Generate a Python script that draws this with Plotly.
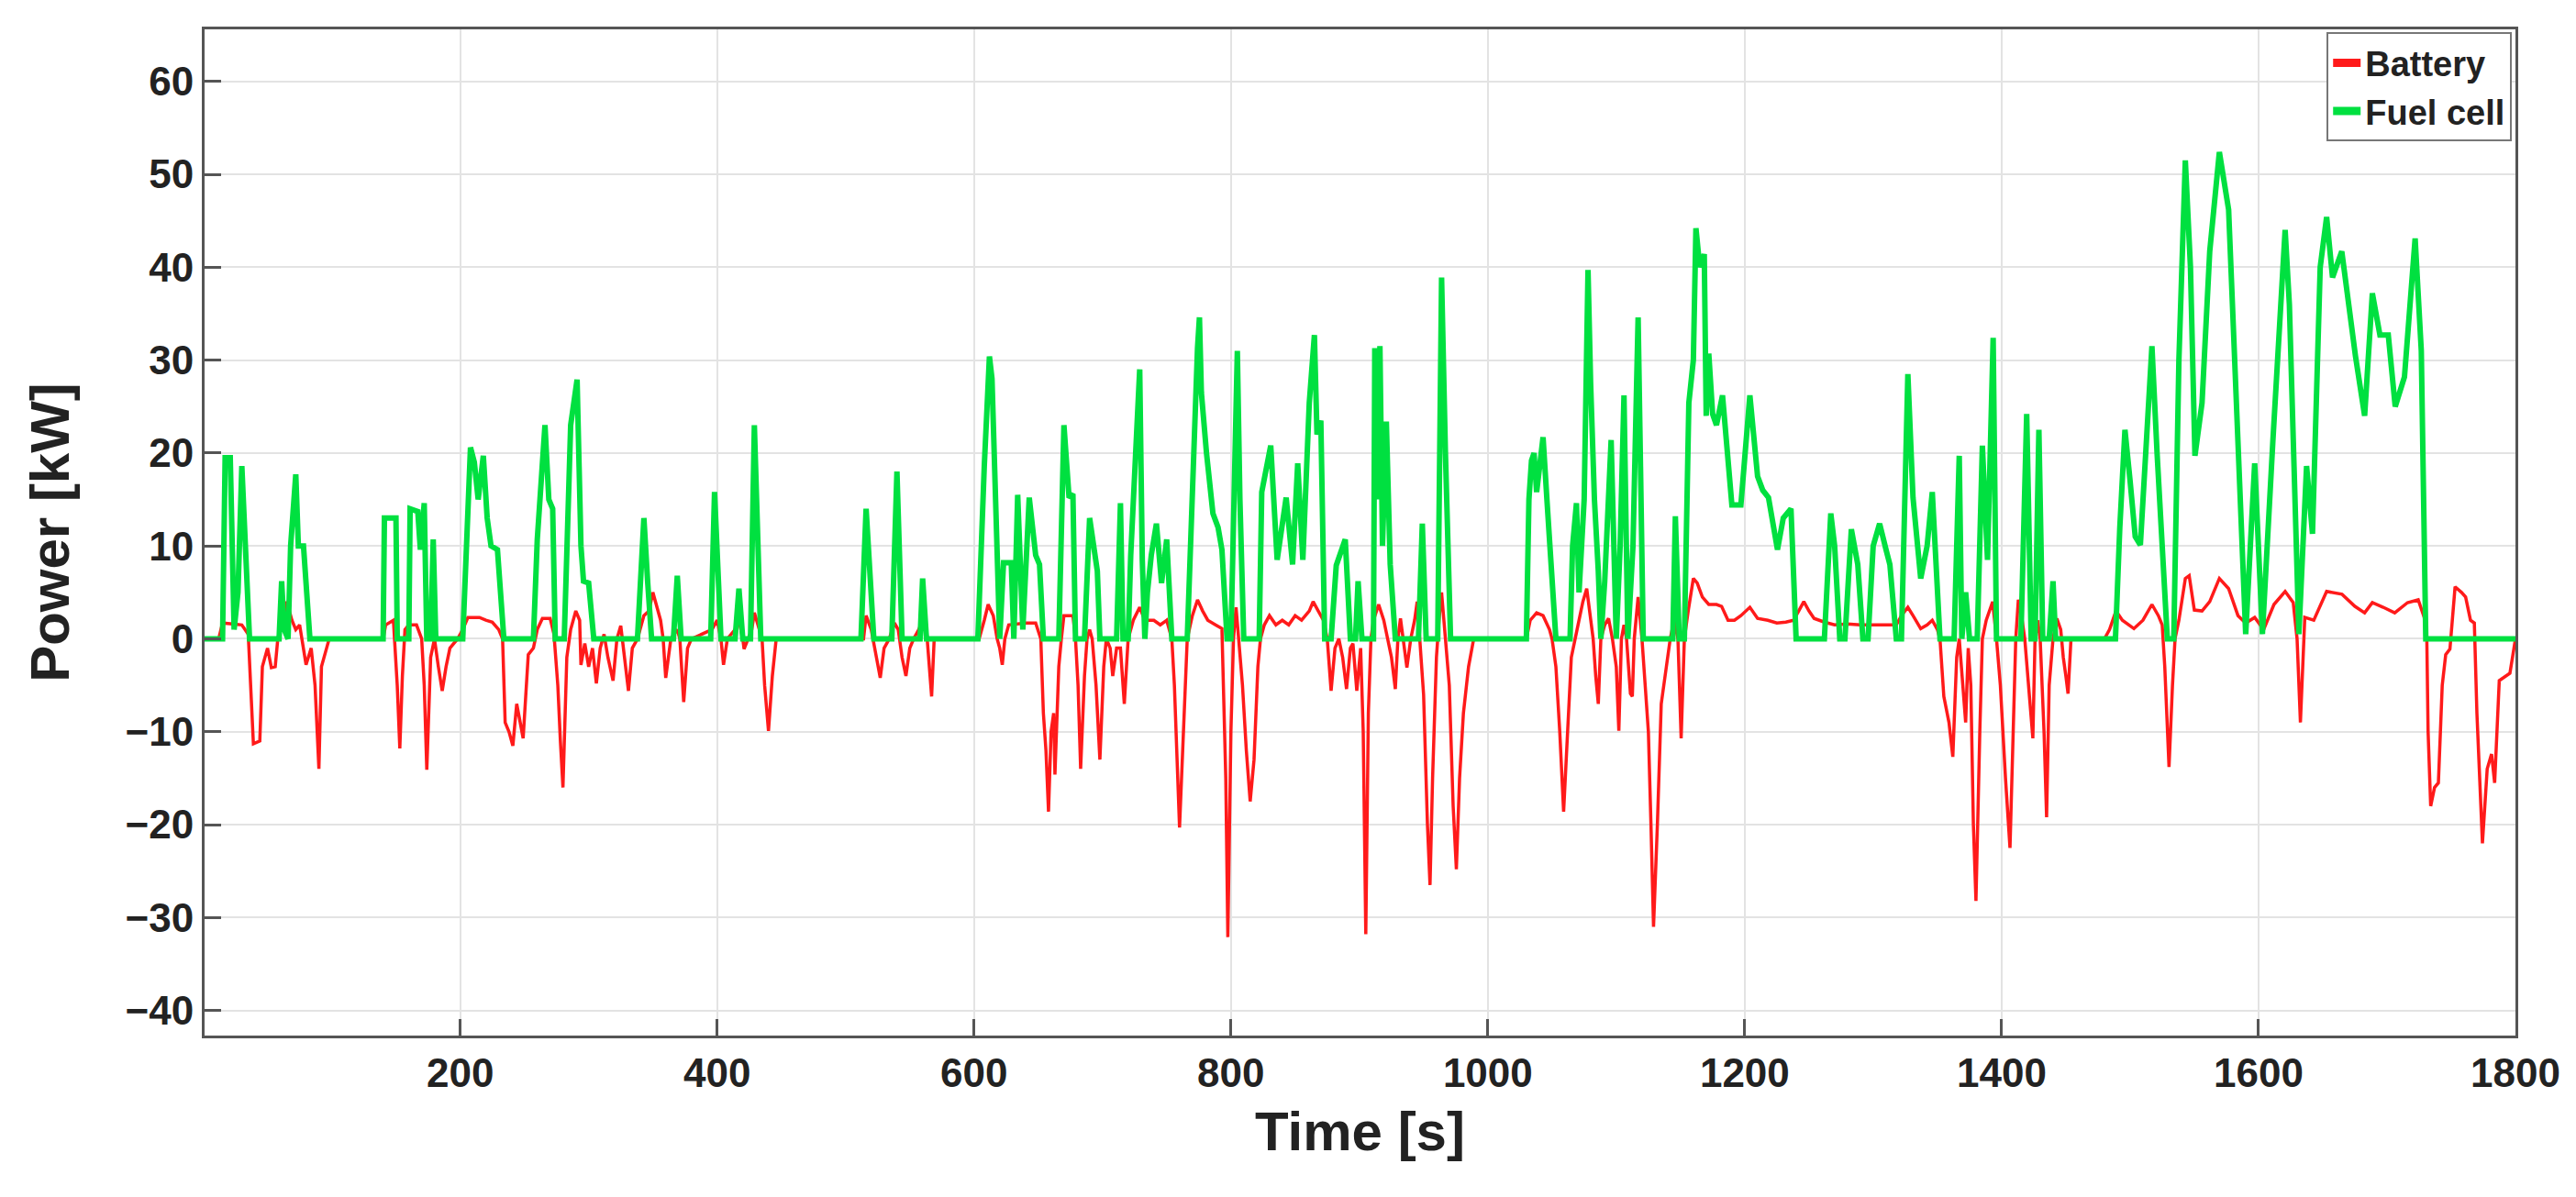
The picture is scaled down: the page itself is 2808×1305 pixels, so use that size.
import plotly.graph_objects as go

# Fuel cell power [kW], (time [s], power) breakpoints
fc_points = [
    (1, 0), (15, 0), (17, 19.5), (21, 19.5), (24, 1), (27, 5), (30, 18.6), (33, 9.6), (36, 0),
    (59, 0), (61, 6.2), (63, 1), (66, 0), (68, 10), (72, 17.7), (74, 10), (78, 10), (83, 0),
    (140, 0), (141, 13), (150, 13), (151, 0), (160, 0), (161, 14), (167, 13.7), (169, 9.6),
    (172, 14.6), (174, 0), (177, 0), (179, 10.7), (181, 0), (202, 0), (205, 10), (208, 20.6),
    (211, 19), (214, 15), (218, 19.7), (221, 13), (224, 10), (229, 9.6), (234, 0), (257, 0),
    (260, 10.7), (266, 23), (269, 15), (272, 14), (274, 0), (281, 0), (286, 23), (291, 27.9),
    (294, 10), (296, 6.2), (300, 6), (304, 0), (338, 0), (343, 13), (346, 6), (349, 0),
    (366, 0), (369, 6.8), (372, 0), (395, 0), (398, 15.8), (403, 0), (414, 0), (417, 5.4),
    (420, 0), (426, 0), (429, 23), (434, 0), (512, 0), (516, 14), (522, 0), (536, 0), (540, 18),
    (544, 0), (558, 0), (560, 6.5), (563, 0), (603, 0), (608, 18.6), (612, 30.4), (614, 28),
    (616, 18.6), (620, 0), (623, 8.2), (629, 8.2), (631, 0), (634, 15.5), (638, 1), (643, 15.2),
    (648, 9), (651, 8), (654, 0), (666, 0), (670, 23), (674, 15.2), (677, 15.6), (679, 0),
    (686, 0), (690, 13), (696, 7.3), (698, 0), (711, 0), (714, 14.6), (716, 0), (720, 0),
    (722, 9), (729, 29), (731, 8.5), (733, 0), (735, 5), (738, 9), (742, 12.4), (746, 6),
    (750, 10.7), (754, 0), (766, 0), (770, 18), (774, 31.3), (775.5, 34.6), (777, 26.5),
    (781, 20), (786, 13.5), (790, 12), (793, 9.6), (797, 0), (800, 0), (805, 31), (807, 15),
    (810, 0), (822, 0), (824, 15.8), (831, 20.8), (836, 8.5), (843, 15.2), (848, 8),
    (852, 18.9), (856, 8.5), (861, 25.4), (865, 32.7), (867, 22), (870, 23.5), (871, 15),
    (873, 0), (878, 0), (882, 7.9), (889, 10.7), (893, 0), (897, 0), (899, 6.2), (902, 0),
    (911, 0), (912, 31.3), (914, 15), (916, 31.5), (918, 10), (921, 23.4), (924, 8), (928, 0),
    (946, 0), (949, 12.4), (952, 0), (961, 0), (964, 38.9), (967, 20), (971, 0), (1030, 0),
    (1032, 15), (1034, 19.2), (1036, 20), (1038, 15.8), (1043, 21.7), (1046, 15), (1049, 7.9),
    (1053, 0), (1064, 0), (1066, 10), (1069, 14.6), (1071, 5), (1075, 15), (1078, 39.7),
    (1080, 27.6), (1083, 15), (1086, 7.3), (1088, 0), (1091, 6.2), (1096, 21.4), (1100, 0),
    (1103, 10), (1106, 26.2), (1109, 0), (1113, 10), (1117, 34.6), (1121, 0), (1144, 0),
    (1146, 13.2), (1149, 0), (1153, 0), (1156.5, 25.4), (1160, 30), (1162, 44.2), (1165, 40),
    (1168.5, 41.4), (1170, 24), (1172, 30.7), (1175, 24.2), (1178, 23), (1182.7, 26.2),
    (1186, 20), (1190, 14.4), (1197, 14.4), (1204, 26.2), (1210, 17.5), (1214, 16),
    (1218.5, 15.2), (1222, 12), (1225.5, 9.6), (1230, 13), (1236, 14), (1240, 0), (1262, 0),
    (1267, 13.5), (1270, 10), (1274, 0), (1278, 0), (1283, 11.8), (1288, 8), (1292, 0),
    (1296, 0), (1300, 10), (1305, 12.4), (1310, 9.6), (1313, 8), (1318, 0), (1322, 0),
    (1327, 28.5), (1331, 15.2), (1337, 6.5), (1342, 10), (1346, 15.8), (1349, 8), (1352, 0),
    (1363, 0), (1367, 19.7), (1369, 0), (1372, 5), (1375, 0), (1381, 0), (1385, 20.8),
    (1389, 8.5), (1393.4, 32.4), (1396, 0), (1415, 0), (1419.5, 24.2), (1423, 0), (1426, 0),
    (1429, 22.5), (1432, 0), (1437, 0), (1440, 6.2), (1442, 0), (1488.6, 0), (1492, 12),
    (1496, 22.5), (1500, 17), (1504, 11), (1508, 10.1), (1512, 20), (1517, 31.5), (1521, 20),
    (1525, 10), (1529, 0), (1534, 0), (1538, 30), (1543, 51.5), (1547, 40), (1550.5, 19.7),
    (1553, 22), (1556, 25.4), (1562, 41.7), (1569.5, 52.4), (1576.7, 46.2), (1584, 22),
    (1590, 0.5), (1597, 18.9), (1603, 0.5), (1611.2, 21.4), (1620.7, 44), (1624, 36),
    (1631.4, 0.5), (1637.4, 18.6), (1642, 11.3), (1648, 40), (1653, 45.4), (1657.6, 38.9),
    (1664.8, 41.7), (1675.5, 30.4), (1682.6, 24), (1688.6, 37.2), (1694.5, 32.7),
    (1701, 32.7), (1706.4, 25), (1713.6, 28.2), (1721.9, 43.1), (1726.7, 31), (1730.2, 0),
    (1800, 0),
]

# Battery power [kW]
bat_points = [
    (1, 0), (12, 0), (15, 1.7), (30, 1.5), (35, 0.5), (37, -5), (39, -11.3), (44, -11),
    (46, -3), (50, -1), (53, -3.1), (56, -3), (58, 0), (62, 2), (65, 4), (69, 2), (72, 1),
    (75, 1.5), (78, -1), (80, -2.8), (84, -1), (87, -5), (90, -14), (92, -3), (96, -1), (98, 0),
    (140, 0), (142, 1.5), (148, 2), (151, -5), (153, -11.8), (155, -4), (157, 1), (160, 1.5),
    (166, 1.5), (170, 0), (172, -5), (174, -14.1), (177, -2), (180, 0), (183, -3), (186, -5.6),
    (189, -3), (192, -1), (198, 0), (202, 1), (206, 2.3), (215, 2.3), (220, 2), (225, 1.8),
    (230, 1), (233, 0), (235, -9), (238, -10), (241, -11.5), (244, -7), (249, -10.7),
    (253, -1.7), (257, -1), (260, 1), (264, 2.2), (270, 2.2), (273, 0.5), (276, -5), (278, -11),
    (280, -16), (283, -2), (286, 1), (290, 3), (293, 2), (294, -2.8), (297, -0.5), (300, -3),
    (303, -1), (306, -4.8), (309, -1), (312, 0.5), (315, -2), (319, -4.5), (322, 0), (325, 1.4),
    (328, -2), (331, -5.6), (334, -1), (338, 0), (343, 2.5), (347, 3), (350, 5), (353, 3.5),
    (356, 2), (358, 0), (360, -4.2), (364, 0), (369, 1), (371, 0), (374, -6.8), (377, -1),
    (380, 0), (396, 1), (400, 2), (403, 0), (405, -2.8), (408, 0), (414, 1), (417, 2), (420, 0),
    (421, -1.1), (424, 0), (427, 1), (429, 2.8), (433, 1), (435, 0), (437, -5), (440, -9.9),
    (443, -4), (446, 0), (514, 0), (516, 2.5), (520, 1), (524, -2), (527, -4.2), (530, -1),
    (534, 0), (538, 1.7), (541, 1), (544, -2), (547, -4), (550, -1), (553, 0), (557, 1),
    (560, 2), (563, 1), (565, -3), (567, -6.2), (569, 0), (604, 0), (608, 2), (611, 3.7),
    (615, 2.5), (618, 0), (620, -1), (622, -2.8), (624, 0), (627, 1.5), (640, 1.7), (648, 1.7),
    (652, 0), (654, -8), (656, -12), (658, -18.6), (660, -10), (662, -8), (663, -14.6),
    (666, -3), (668, 0), (670, 2.5), (677, 2.5), (679, 0), (681, -5), (683, -14), (686, -4),
    (688, 0), (690, 1), (692, 0), (695, -5), (698, -13), (701, -3), (703, 0), (706, -1),
    (708, -4), (711, -1), (714, -1), (717, -7), (720, 0), (724, 2), (729, 3.4), (733, 2),
    (740, 2), (745, 1.5), (750, 2), (754, 0), (756, -5), (760, -20.3), (763, -10), (766, 0),
    (770, 2.5), (774, 4.2), (778, 3), (782, 2), (788, 1.5), (793, 1.1), (796, -15),
    (797.6, -32.1), (800, -10), (802, 0), (804, 3.4), (806, 0), (809, -5), (812, -12),
    (815, -17.5), (818, -13), (821, -3), (823, 0), (826, 1.5), (830, 2.5), (835, 1.5), (840, 2),
    (845, 1.5), (850, 2.5), (855, 2), (861, 3), (864, 4), (868, 3), (872, 2), (875, 0),
    (878, -5.6), (881, -1), (884, 0), (887, -2), (890, -5.4), (893, -1), (895, -0.5),
    (898, -5.6), (901, -1), (903, -10), (905, -31.8), (907, -8), (909, 0), (911, 2),
    (915, 3.7), (919, 2), (922, 0), (925, -2), (928, -5.4), (930, 0), (932, 2.2), (934, 0),
    (937, -3.1), (940, 0), (943, 2), (945, 4), (947, 0), (950, -6), (953, -20), (955, -26.5),
    (957, -15), (960, -2), (962, 2), (964, 5), (967, 0), (970, -5), (973, -18), (975.5, -24.8),
    (978, -15), (981, -8), (985, -3), (989, 0), (1030, 0), (1033, 2), (1038, 2.8), (1043, 2.5),
    (1048, 1), (1050, 0), (1053, -3), (1056, -10), (1059, -18.6), (1062, -10), (1065, -2),
    (1068, 0), (1071, 2), (1074, 4), (1077, 5.4), (1080, 2), (1082, 0), (1084, -4), (1086, -7),
    (1088, 0), (1091, 1.5), (1094, 2.2), (1097, 0), (1100, -3), (1102, -9.9), (1104, 0),
    (1106, 1.5), (1108, 0), (1111, -5.9), (1112.5, -6.2), (1114, 0), (1117, 4.5), (1120, 0),
    (1122, -4), (1125, -10), (1127, -20), (1129, -31), (1132, -20), (1135, -7), (1139, -3),
    (1142, 0), (1145, 2), (1148, 0), (1150.5, -10.7), (1153, 0), (1156, 3), (1160, 6.5),
    (1163, 6), (1167, 4.5), (1172, 3.7), (1178, 3.7), (1182, 3.5), (1187, 2), (1192, 2),
    (1197, 2.5), (1204, 3.4), (1210, 2.2), (1218, 2), (1225, 1.7), (1232, 1.8), (1238, 2),
    (1242, 3), (1246, 4), (1250, 3), (1254, 2.2), (1262, 1.8), (1270, 1.5), (1280, 1.6),
    (1290, 1.5), (1300, 1.5), (1310, 1.5), (1318, 1.5), (1322, 2.5), (1327, 3.4), (1331, 2.5),
    (1337, 1.1), (1342, 1.5), (1346, 2), (1350, 1), (1352, 0), (1355, -6.2), (1359, -9),
    (1362, -12.7), (1365, -2), (1367, 0), (1370, -5), (1372, -9), (1374, -1), (1376, -5),
    (1378, -20), (1380, -28.2), (1383, -10), (1385, 0), (1388, 2), (1393, 4), (1396, 0),
    (1399, -5), (1403, -15), (1406.5, -22.5), (1409, -10), (1411, 0), (1413, 4.2), (1416, 2),
    (1418, 0), (1421, -5), (1424.3, -10.7), (1426, 0), (1428, 2), (1430, 0), (1433, -10),
    (1435, -19.2), (1437, -5), (1440, 0), (1443, 2.2), (1446, 1), (1448, -2), (1450, -4),
    (1451.7, -5.9), (1454, 0), (1480, 0), (1484, 1), (1489, 3), (1494, 2), (1503, 1.1),
    (1510, 2), (1517, 3.7), (1522, 2.5), (1525, 1.5), (1527, -3), (1530.3, -13.8), (1533, -5),
    (1535, 0), (1538, 2), (1543, 6.5), (1546, 6.8), (1550, 3.1), (1556, 3), (1562, 4),
    (1569.5, 6.5), (1576.7, 5.4), (1584, 2.5), (1590, 1.7), (1597, 2.3), (1604, 1),
    (1612, 3.7), (1620.7, 5.1), (1627, 3.9), (1630, 0), (1632.6, -9), (1635, 0), (1636, 2.3),
    (1643, 2), (1653, 5.1), (1665, 4.8), (1675, 3.5), (1682.6, 2.8), (1688.6, 3.9),
    (1697, 3.4), (1706, 2.8), (1716, 3.9), (1724.3, 4.2), (1729, 2.3), (1731, 0), (1732, -10),
    (1734, -18), (1737, -16), (1740, -15.5), (1743, -5), (1745.7, -1.7), (1749, -1.1),
    (1751, 2), (1753, 5.6), (1758, 5), (1761.2, 4.5), (1765, 2), (1768, 1.7), (1770, -8),
    (1774.3, -22), (1778, -14), (1781.4, -12.4), (1783.8, -15.5), (1787.4, -4.5),
    (1795.7, -3.7), (1800, 0),
]

x_ticks = [200, 400, 600, 800, 1000, 1200, 1400, 1600, 1800]
y_ticks = [-40, -30, -20, -10, 0, 10, 20, 30, 40, 50, 60]

bat_t = [p[0] for p in bat_points]
bat_p = [p[1] for p in bat_points]
fc_t = [p[0] for p in fc_points]
fc_p = [p[1] for p in fc_points]

RED = '#FF1A1A'
GREEN = '#00E040'

fig = go.Figure()
fig.add_trace(go.Scatter(x=bat_t, y=bat_p, mode='lines', name='Battery', showlegend=False,
                         line=dict(color=RED, width=3.5)))
fig.add_trace(go.Scatter(x=fc_t, y=fc_p, mode='lines', name='Fuel cell', showlegend=False,
                         line=dict(color=GREEN, width=6)))
# legend entries with the short thick MATLAB-style line samples
fig.add_trace(go.Scatter(x=[None], y=[None], mode='lines', name='Battery',
                         line=dict(color=RED, width=9)))
fig.add_trace(go.Scatter(x=[None], y=[None], mode='lines', name='Fuel cell',
                         line=dict(color=GREEN, width=9)))

axis_font = dict(family='Liberation Sans', size=44, color='#222222', weight='bold')
title_font = dict(family='Liberation Sans', size=60, color='#222222', weight='bold')

fig.update_layout(
    width=2808, height=1305,
    margin=dict(l=215, r=74, t=24, b=184),
    paper_bgcolor='white', plot_bgcolor='white',
    showlegend=True,
    legend=dict(x=0.9985, y=0.997, xanchor='right', yanchor='top',
                bgcolor='white', bordercolor='#777777', borderwidth=2,
                font=dict(family='Liberation Sans', size=38, color='#222222', weight='bold'),
                itemwidth=30, tracegroupgap=10),
    xaxis=dict(
        title=dict(text='Time [s]', font=title_font, standoff=20),
        range=[1, 1800], tickvals=x_ticks, tickfont=axis_font,
        showgrid=True, gridcolor='#E3E3E3', gridwidth=2,
        zeroline=False, showline=True, linecolor='#555555', linewidth=3, mirror=True,
        ticks='inside', ticklen=18, tickwidth=3, tickcolor='#555555',
    ),
    yaxis=dict(
        title=dict(text='Power [kW]', font=title_font, standoff=42),
        range=[-42.7, 65.6], tickvals=y_ticks, ticktext=[str(v).replace('-', '\u2212') for v in y_ticks],
        tickfont=axis_font,
        showgrid=True, gridcolor='#E3E3E3', gridwidth=2,
        zeroline=False, showline=True, linecolor='#555555', linewidth=3, mirror=True,
        ticks='inside', ticklen=18, tickwidth=3, tickcolor='#555555',
    ),
)

fig.write_html("out.html")
